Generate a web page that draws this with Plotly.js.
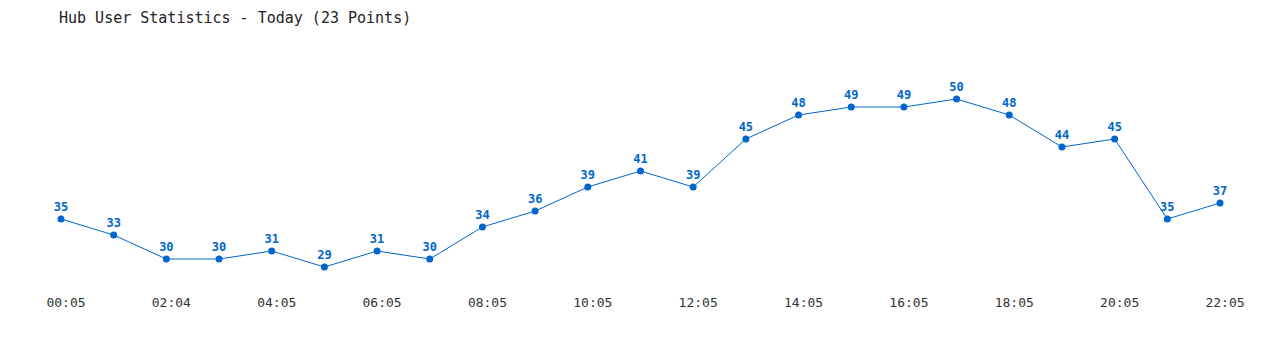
<!DOCTYPE html>
<html>
<head>
<meta charset="utf-8">
<script src="https://cdn.plot.ly/plotly-3.0.1.min.js"></script>
<style>html,body{margin:0;padding:0;background:#fff;}#chart{width:1280px;height:350px;}</style>
</head>
<body>
<div id="chart"></div>
<script>
const times = ["00:05","01:05","02:04","03:05","04:05","05:05","06:05","07:05","08:05","09:05","10:05","11:05","12:05","13:05","14:05","15:05","16:05","17:05","18:05","19:05","20:05","21:05","22:05"];
const users = [35,33,30,30,31,29,31,30,34,36,39,41,39,45,48,49,49,50,48,44,45,35,37];
const tickLabels = times.filter((t,i)=>i%2===0);

const lineColor = '#0066cc';
const trace = {
  x: times,
  y: users,
  type: 'scatter',
  mode: 'lines+markers+text',
  text: users.map(String),
  textposition: 'top center',
  textfont: {family: '"DejaVu Sans Mono", monospace', size: 12, color: lineColor, weight: 'bold'},
  line: {color: lineColor, width: 1},
  marker: {color: lineColor, size: 7},
  cliponaxis: false,
  hoverinfo: 'x+y'
};
const layout = {
  width: 1280, height: 350,
  margin: {l: 61, r: 60, t: 40, b: 60},
  paper_bgcolor: '#fff', plot_bgcolor: '#fff',
  showlegend: false,
  title: {
    text: 'Hub User Statistics - Today (23 Points)',
    font: {family: '"DejaVu Sans Mono", monospace', size: 15, color: '#222'},
    xref: 'container', yref: 'container',
    x: 59/1280, xanchor: 'left',
    y: 1 - 18/350, yanchor: 'middle'
  },
  xaxis: {
    type: 'category',
    range: [0, 22],
    tickvals: tickLabels,
    ticktext: tickLabels,
    showgrid: false, zeroline: false, showline: false,
    ticks: '',
    ticklabelstandoff: 3,
    ticklabelshift: 5,
    tickfont: {family: '"DejaVu Sans Mono", monospace', size: 13, color: '#333'}
  },
  yaxis: {
    range: [26.125, 57.375],
    showgrid: false, zeroline: false, showline: false,
    showticklabels: false, ticks: ''
  }
};
Plotly.newPlot('chart', [trace], layout, {displayModeBar: false, staticPlot: true});
</script>
</body>
</html>
